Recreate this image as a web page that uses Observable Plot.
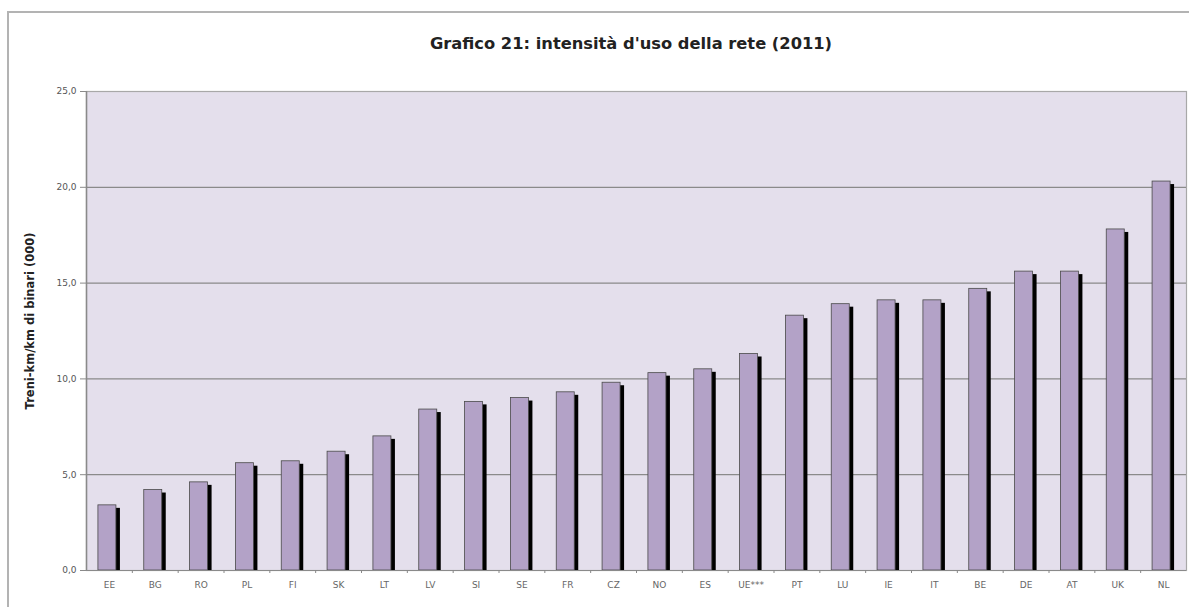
<!DOCTYPE html>
<html>
<head>
<meta charset="utf-8">
<script src="https://cdn.jsdelivr.net/npm/d3@7"></script>
<script src="https://cdn.jsdelivr.net/npm/@observablehq/plot@0.6"></script>
<style>
  html, body { margin: 0; padding: 0; background: #fff; overflow: hidden; }
  body { width: 1189px; height: 607px; position: relative; font-family: "DejaVu Sans", Verdana, sans-serif; }
  #frame { position: absolute; left: 7px; top: 11px; width: 1300px; height: 700px; border: 2px solid #b3b3b3; box-sizing: border-box; }
  #title { position: absolute; left: 0; top: 0; width: 1262px; height: 75px; line-height: 88px; text-align: center;
           font-family: "DejaVu Sans", Verdana, sans-serif; font-weight: bold; font-size: 16.3px; color: #222; }
  #chart { position: absolute; left: 0; top: 75px; }
</style>
</head>
<body>
<div id="frame"></div>
<div id="title">Grafico 21: intensità d'uso della rete (2011)</div>
<div id="chart"></div>
<script>
const categories = ["EE","BG","RO","PL","FI","SK","LT","LV","SI","SE","FR","CZ","NO","ES","UE***","PT","LU","IE","IT","BE","DE","AT","UK","NL"];
const values = [3.4, 4.2, 4.6, 5.6, 5.7, 6.2, 7.0, 8.4, 8.8, 9.0, 9.3, 9.8, 10.3, 10.5, 11.3, 13.3, 13.9, 14.1, 14.1, 14.7, 15.6, 15.6, 17.8, 20.3];
const yTicks = [0, 5, 10, 15, 20, 25];
const gridValues = [5, 10, 15, 20];
const yLabel = "Treni-km/km di binari (000)";

const data = categories.map((c, i) => ({country: c, value: values[i]}));

const width = 1189, height = 532;
const marginLeft = 86, marginRight = 3, marginTop = 16, marginBottom = 37;
const step = (width - marginLeft - marginRight) / categories.length;
const barW = 18;
const inset = (step - barW) / 2;

const chart = Plot.plot({
  width, height, marginLeft, marginRight, marginTop, marginBottom,
  style: {fontFamily: "'DejaVu Sans', Verdana, sans-serif", background: "transparent"},
  x: {type: "band", domain: categories, paddingInner: 0, paddingOuter: 0, round: false},
  y: {domain: [0, 25]},
  marks: [
    Plot.frame({fill: "#e4dfec", stroke: "#a8a8a8", strokeWidth: 1.2}),
    Plot.ruleY(gridValues, {stroke: "#8a8a8a", strokeWidth: 1.3}),
    // shadow of bars (3D effect)
    Plot.barY(data, {x: "country", y: "value", fill: "#000", dx: 2, dy: 3, insetBottom: 3, insetLeft: inset, insetRight: inset}),
    Plot.barY(data, {x: "country", y: "value", fill: "#b3a2c7", stroke: "#4a4a4a", strokeWidth: 0.8, dx: -2, insetLeft: inset, insetRight: inset}),
    Plot.ruleY([0], {stroke: "#8a8a8a", strokeWidth: 1.2}),
    Plot.ruleX([categories[0]], {dx: -step / 2, stroke: "#8a8a8a", strokeWidth: 1.5}),
    Plot.axisY({
      ticks: yTicks, tickSize: 6, tickPadding: 4,
      tickFormat: d => d.toFixed(1).replace(".", ","),
      fontSize: 9, color: "#555", stroke: "#8a8a8a",
      label: yLabel, labelAnchor: "center", labelArrow: "none", labelOffset: 61
    }),
    Plot.axisX({tickSize: 0, tickPadding: 11, fontSize: 9, color: "#666", label: null}),
    Plot.axisX({tickSize: 3, tickFormat: () => "", dx: step / 2, stroke: "#888", label: null,
      ticks: categories.slice(0, -1)})
  ]
});
// make y label bold
chart.querySelectorAll("text").forEach(t => {
  if (t.textContent === yLabel) {
    t.setAttribute("font-weight", "bold"); t.setAttribute("fill", "#222"); t.setAttribute("font-size", "11.5");
    t.setAttribute("dx", "10");
  }
});
document.getElementById("chart").appendChild(chart);
</script>
</body>
</html>
